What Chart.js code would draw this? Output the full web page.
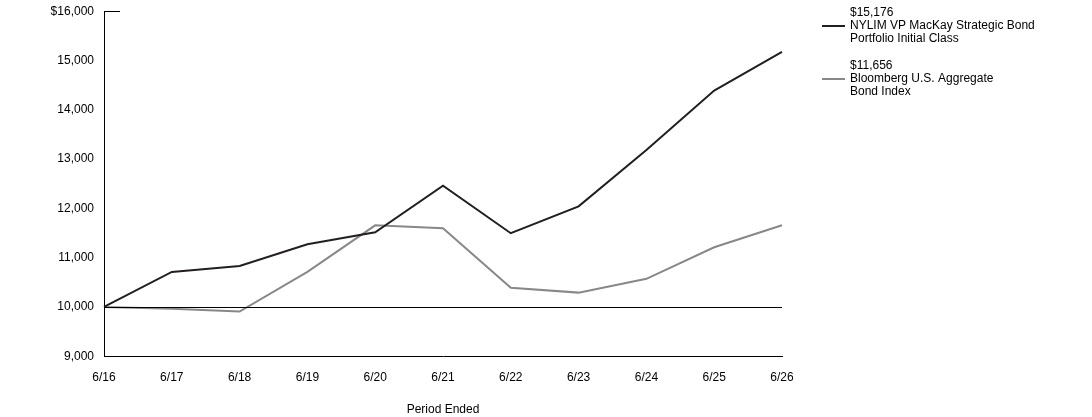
<!DOCTYPE html>
<html><head><meta charset="utf-8">
<script src="https://cdn.jsdelivr.net/npm/chart.js@4"></script>
<style>html,body{margin:0;padding:0;background:#fff}#w{width:1092px;height:417px}</style>
</head><body><div id="w"><canvas id="c"></canvas></div>
<script>
const categories=['6/16','6/17','6/18','6/19','6/20','6/21','6/22','6/23','6/24','6/25','6/26'];
const fundValues=[10000,10710,10830,11270,11515,12460,11495,12040,13185,14390,15176];
const indexValues=[10000,9965,9905,10710,11655,11595,10390,10290,10570,11210,11656];
const fundLabel=['$15,176','NYLIM VP MacKay Strategic Bond','Portfolio Initial Class'];
const indexLabel=['$11,656','Bloomberg U.S. Aggregate','Bond Index'];
Chart.defaults.font.family='"Liberation Sans", Arial, sans-serif';
Chart.defaults.font.size=12;
Chart.defaults.color='#000';
const extras={id:'extras',afterDraw(ch){
 const c=ch.ctx,x=ch.scales.x,y=ch.scales.y;
 c.save();c.strokeStyle='#000';c.lineWidth=1;
 const y0=Math.round(y.getPixelForValue(10000))+0.5;
 c.beginPath();c.moveTo(x.left,y0);c.lineTo(x.right,y0);c.stroke();
 const yt=Math.round(y.getPixelForValue(16000))+0.5;
 c.beginPath();c.moveTo(x.left,yt);c.lineTo(x.left+16,yt);c.stroke();
 c.font='12px "Liberation Sans", Arial, sans-serif';c.fillStyle='#000';c.textBaseline='middle';
 const items=[[fundLabel,'#231f20',13],[indexLabel,'#888888',66]];
 for(const [lab,col,top] of items){
  lab.forEach((t,i)=>c.fillText(t,850,top+i*13));
  c.strokeStyle=col;c.lineWidth=2;c.beginPath();c.moveTo(822,top+13);c.lineTo(845,top+13);c.stroke();
 }
 c.restore();}};
new Chart(document.getElementById('c'),{type:'line',
 data:{labels:categories,datasets:[
  {data:fundValues,borderColor:'#231f20',borderWidth:2,pointRadius:0,tension:0},
  {data:indexValues,borderColor:'#888888',borderWidth:2,pointRadius:0,tension:0}]},
 options:{responsive:true,maintainAspectRatio:false,animation:false,
  layout:{padding:{top:-4,right:310,left:0,bottom:0}},
  plugins:{legend:{display:false},tooltip:{enabled:false}},
  scales:{
   x:{offset:false,grid:{display:false,drawTicks:true,tickLength:6,tickColor:'#000'},border:{color:'#000'},
      ticks:{padding:8,maxRotation:0},
      title:{display:true,text:'Period Ended',padding:{top:10,bottom:0}}},
   y:{min:9000,max:16000,grid:{display:false,tickLength:6,tickColor:'#000'},border:{color:'#000'},
      afterFit(s){s.width=104;},
      ticks:{stepSize:1000,padding:4,callback:v=>v===16000?'$16,000':v.toLocaleString('en-US')}}}},
 plugins:[extras]});
</script></body></html>
